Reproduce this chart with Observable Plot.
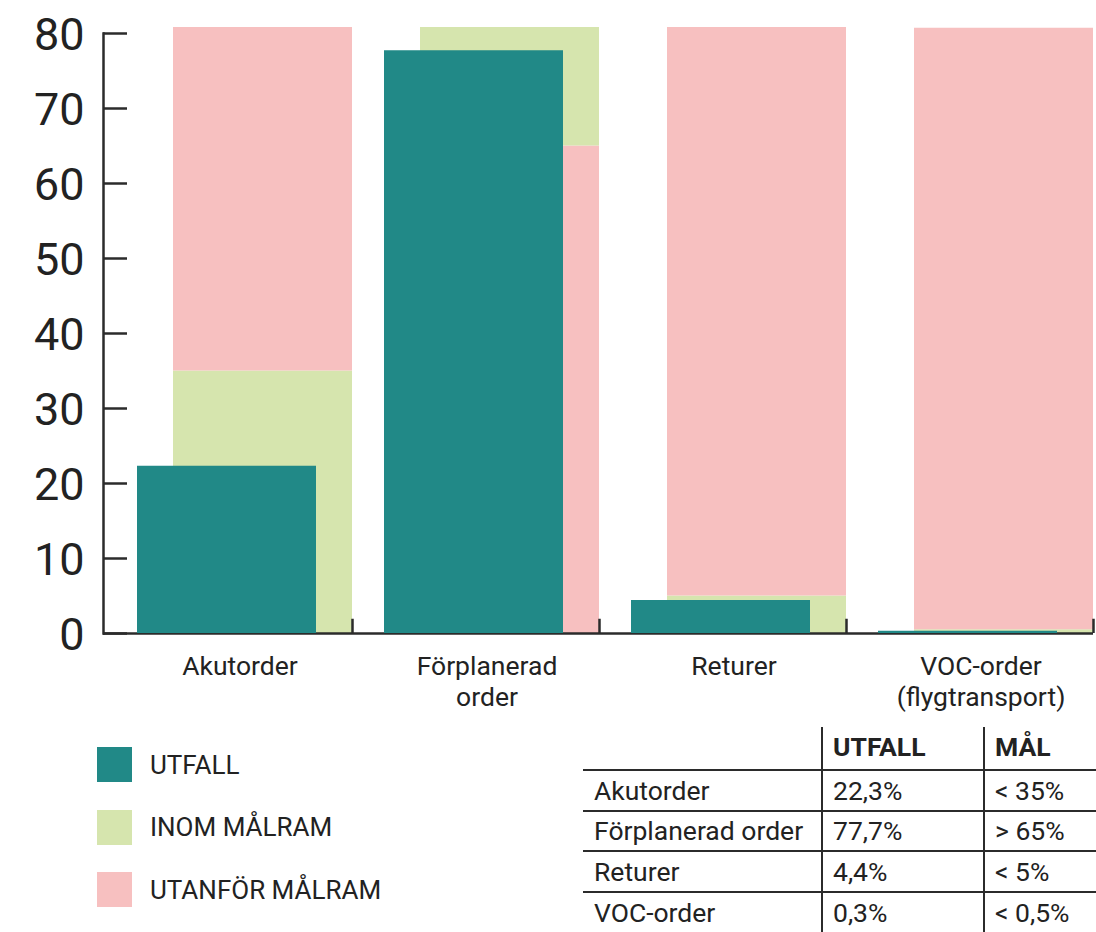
<!DOCTYPE html>
<html><head><meta charset="utf-8">
<script src="https://cdn.jsdelivr.net/npm/d3@7"></script>
<script src="https://cdn.jsdelivr.net/npm/@observablehq/plot@0.6"></script>
<style>
body{margin:0;background:#fff;font-family:Roboto,sans-serif;color:#222;}
#wrap{position:relative;width:1096px;height:932px;overflow:hidden;background:#fff;}
#wrap svg{position:absolute;left:0;top:0;}
.leg{position:absolute;left:97px;height:35px;display:flex;align-items:center;font-size:26px;color:#222;}
.leg .sw{width:35px;height:35px;margin-right:18px;}
.tbl{position:absolute;left:583px;top:727px;width:513px;border-collapse:collapse;table-layout:fixed;font-size:26.5px;color:#222;line-height:1.1;}
.tbl td,.tbl th{padding:0 0 0 10px;text-align:left;white-space:nowrap;overflow:visible;box-sizing:border-box;}
.tbl th{height:43px;font-weight:700;vertical-align:bottom;padding-bottom:8px;}
.tbl td{height:40.5px;border-top:2.5px solid #2b2b2b;vertical-align:middle;}
.tbl .c1{padding-left:11px;}
.tbl .c2,.tbl .c3{border-left:2.5px solid #2b2b2b;}
</style></head><body><div id="wrap"></div>
<script>
const categories = ["Akutorder","Förplanerad order","Returer","VOC-order"];
const axisLabels = ["Akutorder","Förplanerad\norder","Returer","VOC-order\n(flygtransport)"];
const utfall = [22.3, 77.7, 4.4, 0.3];
const goal = [35, 65, 5, 0.5];
const goalDir = ["<", ">", "<", "<"];
const bgTop = [80.8, 80.8, 80.8, 80.7];
const yTicks = [0,10,20,30,40,50,60,70,80];
const utfallText = ["22,3%","77,7%","4,4%","0,3%"];
const goalText = ["< 35%","> 65%","< 5%","< 0,5%"];
const tableHeader = ["", "UTFALL", "MÅL"];
const legendLabels = ["UTFALL","INOM MÅLRAM","UTANFÖR MÅLRAM"];
const legendKeys = ["utfall","inom","utanfor"];
const colors = {utfall:"#218987", inom:"#d6e5ae", utanfor:"#f7c0c0"};

const segments = [];
categories.forEach((c,i)=>{
  if (goalDir[i] === "<") {
    segments.push({cat:c, y1:0, y2:goal[i], k:"inom"});
    segments.push({cat:c, y1:goal[i], y2:bgTop[i], k:"utanfor"});
  } else {
    segments.push({cat:c, y1:0, y2:goal[i], k:"utanfor"});
    segments.push({cat:c, y1:goal[i], y2:bgTop[i], k:"inom"});
  }
});
const utfallData = categories.map((c,i)=>({cat:c, v:utfall[i]}));

const axisColor = "#2b2b2b";
const chart = Plot.plot({
  width: 1096, height: 715,
  marginTop: 33, marginBottom: 82, marginLeft: 103, marginRight: 3,
  x: {domain: categories, range: [105, 1125.4], paddingInner: 0.277, paddingOuter: 0.2, align: 0.5, axis: null},
  y: {domain: [0,80], axis: null},
  style: {fontFamily: "Roboto, sans-serif", color: "#222", background: "#fff", overflow: "visible"},
  marks: [
    Plot.barY(segments, {x:"cat", y1:"y1", y2:"y2", fill: d => colors[d.k], dx: 18}),
    Plot.frame({anchor: "left", stroke: axisColor, strokeWidth: 2.5}),
    Plot.ruleY([0], {stroke: axisColor, strokeWidth: 2.5}),
    Plot.barY(utfallData, {x:"cat", y:"v", fill: colors.utfall, dx: -18}),
    Plot.ruleX(categories, {x: d => d, y1: 0, y2: 1.9, dx: 179/2 + 18, stroke: axisColor, strokeWidth: 2.5}),
    Plot.axisY({ticks: yTicks, tickSize: -24, tickFormat: () => "", stroke: axisColor, strokeWidth: 2.5, label: null}),
    Plot.axisY({ticks: yTicks, tickSize: 0, tickPadding: 19, fontSize: 45, fill: "#222", dy: 2, label: null}),
    Plot.axisX({tickSize: 0, tickPadding: 19, fontSize: 26.5, fill: "#222", dx: -5, lineHeight: 1.17,
      tickFormat: d => axisLabels[categories.indexOf(d)], label: null})
  ]
});
const wrap = document.getElementById("wrap");
wrap.appendChild(chart);

// legend
legendLabels.forEach((lab, i) => {
  const div = document.createElement("div");
  div.className = "leg";
  div.style.top = (747 + i * 62.5) + "px";
  const sw = document.createElement("div");
  sw.className = "sw";
  sw.style.background = colors[legendKeys[i]];
  div.appendChild(sw);
  const t = document.createElement("span");
  t.textContent = lab;
  div.appendChild(t);
  wrap.appendChild(div);
});

// table
const tbl = d3.select(wrap).append("table").attr("class", "tbl");
const cg = tbl.append("colgroup");
[239, 162, 112].forEach(w => cg.append("col").style("width", w + "px"));
const hr = tbl.append("tr");
tableHeader.forEach((h, j) => hr.append("th").attr("class", "c" + (j+1)).text(h));
categories.forEach((c, i) => {
  const r = tbl.append("tr");
  r.append("td").attr("class", "c1").text(c);
  r.append("td").attr("class", "c2").text(utfallText[i]);
  r.append("td").attr("class", "c3").text(goalText[i]);
});
</script>
</body></html>
